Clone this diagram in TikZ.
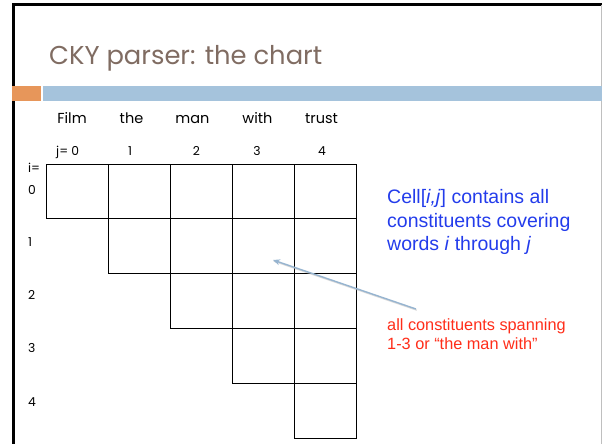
\documentclass[tikz,border=0pt]{standalone}
\usepackage{fontspec}
\setmainfont{Liberation Sans}
\newfontfamily\geofont{Poppins}
\usetikzlibrary{arrows.meta}
\definecolor{titlebrown}{RGB}{128,108,98}
\definecolor{barorange}{RGB}{231,150,90}
\definecolor{barblue}{RGB}{165,195,220}
\definecolor{arrowblue}{RGB}{150,180,208}
\definecolor{noteblue}{RGB}{35,60,235}
\definecolor{notered}{RGB}{255,45,25}
\tikzset{
  cell/.style={draw=black, line width=0.9pt, minimum width=62pt, minimum height=54.8pt, inner sep=0pt},
  word/.style={font=\geofont\fontsize{14.5}{16}\selectfont, anchor=base, inner sep=0pt},
  idx/.style={font=\geofont\fontsize{12.3}{14}\selectfont, anchor=base, inner sep=0pt},
  rowidx/.style={font=\geofont\fontsize{12.3}{14}\selectfont, anchor=west, inner sep=0pt},
  note/.style={anchor=base west, inner sep=0pt, align=left},
}
\begin{document}
\begin{tikzpicture}[x=1pt, y=-1pt]
  \useasboundingbox (0,0) rectangle (602,444);
  % slide frame
  \draw[line width=2.8pt] (13.3,444) -- (13.3,4.7) -- (602,4.7);
  \draw[line width=0.8pt, black!25] (601.2,4.7) -- (601.2,444);
  % title and header bars
  \node[anchor=base west, inner sep=0pt, text=titlebrown,
        font=\geofont\fontsize{25.8}{30}\selectfont] (title) at (49,64) {CKY parser: the chart};
  \fill[barorange] (12,86) rectangle (40.5,100.5);
  \fill[barblue] (43,86) rectangle (602,100.5);
  % words
  \node[word] (w0) at (72,123.5) {Film};
  \node[word] (w1) at (131.5,123.5) {the};
  \node[word] (w2) at (192.5,123.5) {man};
  \node[word] (w3) at (257.5,123.5) {with};
  \node[word] (w4) at (321.5,123.5) {trust};
  % column indices
  \node[idx, anchor=base west] (j0) at (56,155) {j= 0};
  \node[idx] (j1) at (130,155) {1};
  \node[idx] (j2) at (196.5,155) {2};
  \node[idx] (j3) at (257,155) {3};
  \node[idx] (j4) at (322,155) {4};
  % row indices
  \node[rowidx] (ieq) at (28,168) {i=};
  \node[rowidx] (i0) at (28,190) {0};
  \node[rowidx] (i1) at (28,242) {1};
  \node[rowidx] (i2) at (28,295) {2};
  \node[rowidx] (i3) at (28,348) {3};
  \node[rowidx] (i4) at (28,402) {4};
  % chart cells: row i holds cells j = i..4
  \foreach \i in {0,...,4} {
    \foreach \j in {\i,...,4} {
      \node[cell] (c\i\j) at ({46+62*\j+31}, {164+54.8*\i+27.4}) {};
    }
  }
  % notes (base anchor sits on the last line)
  \node[note, text=noteblue, font=\fontsize{19.5}{23.5}\selectfont] (cellnote) at (387,250.5)
    {Cell[\textit{i,j}] contains all\\constituents covering\\words \textit{i} through \textit{j}};
  \node[note, text=notered, font=\fontsize{16.3}{18.4}\selectfont] (spannote) at (387,349)
    {all constituents spanning\\1-3 or \textquotedblleft the man with\textquotedblright};
  % pointer to cell [1,3]
  \coordinate (tail) at (416,309);
  \coordinate (tip) at (273,260);
  \draw[black!30, opacity=0.5, line width=1.2pt] ([shift={(0.8,1.2)}]tail) -- ([shift={(0.8,1.2)}]tip);
  \draw[arrowblue, line width=1.4pt, -{Stealth[length=7pt,width=6pt]}] (tail) -- (tip);
\end{tikzpicture}
\end{document}
